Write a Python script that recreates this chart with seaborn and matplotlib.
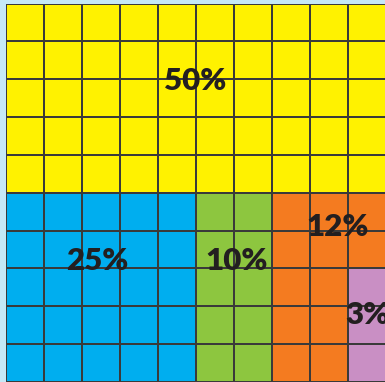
import numpy as np
import pandas as pd
import matplotlib
matplotlib.use("Agg")
import matplotlib.pyplot as plt
from matplotlib.colors import ListedColormap
import seaborn as sns

# Shares of a 10 x 10 waffle grid
categories = ["A", "B", "C", "D", "E"]
percentages = [50, 25, 10, 12, 3]
labels = ["50%", "25%", "10%", "12%", "3%"]
colors = ["#FFF200", "#00AEEF", "#8DC63F", "#F47B20", "#C98FC4"]

# Label anchor points in grid units (column, row)
label_pos = [(4.97, 2.05), (2.40, 6.80), (6.07, 6.80), (8.73, 5.90), (9.50, 8.24)]

N_ROWS, N_COLS, BAND = 10, 10, 5

# Fill the grid band by band (5 rows each), column by column, top to bottom
order = []
for b in range(N_ROWS // BAND):
    for c in range(N_COLS):
        for r in range(BAND):
            order.append((b * BAND + r, c))

grid = np.zeros((N_ROWS, N_COLS), dtype=int)
idx = 0
for k, p in enumerate(percentages):
    for _ in range(p):
        r, c = order[idx]
        grid[r, c] = k
        idx += 1

df = pd.DataFrame(grid)

W, H = 385, 382
fig = plt.figure(figsize=(W / 100, H / 100), dpi=100)
fig.patch.set_facecolor("#C6E8F6")

x0, y_top, cw, ch = 6.3, 3.7, 38.0, 37.8
ax = fig.add_axes([x0 / W, (H - y_top - ch * N_ROWS) / H,
                   cw * N_COLS / W, ch * N_ROWS / H])

sns.heatmap(df, ax=ax, cmap=ListedColormap(colors), vmin=-0.5,
            vmax=len(colors) - 0.5, cbar=False, linewidths=1.3,
            linecolor="#3a3a3a", xticklabels=False, yticklabels=False,
            square=False)
ax.set_xlabel("")
ax.set_ylabel("")

for text, (cx, cy) in zip(labels, label_pos):
    ax.text(cx, cy, text, ha="center", va="center", fontsize=22.5,
            fontweight="heavy", family=["Lato", "DejaVu Sans"],
            color="#231F20", clip_on=False)

fig.savefig("out.png", dpi=100, facecolor=fig.get_facecolor())
